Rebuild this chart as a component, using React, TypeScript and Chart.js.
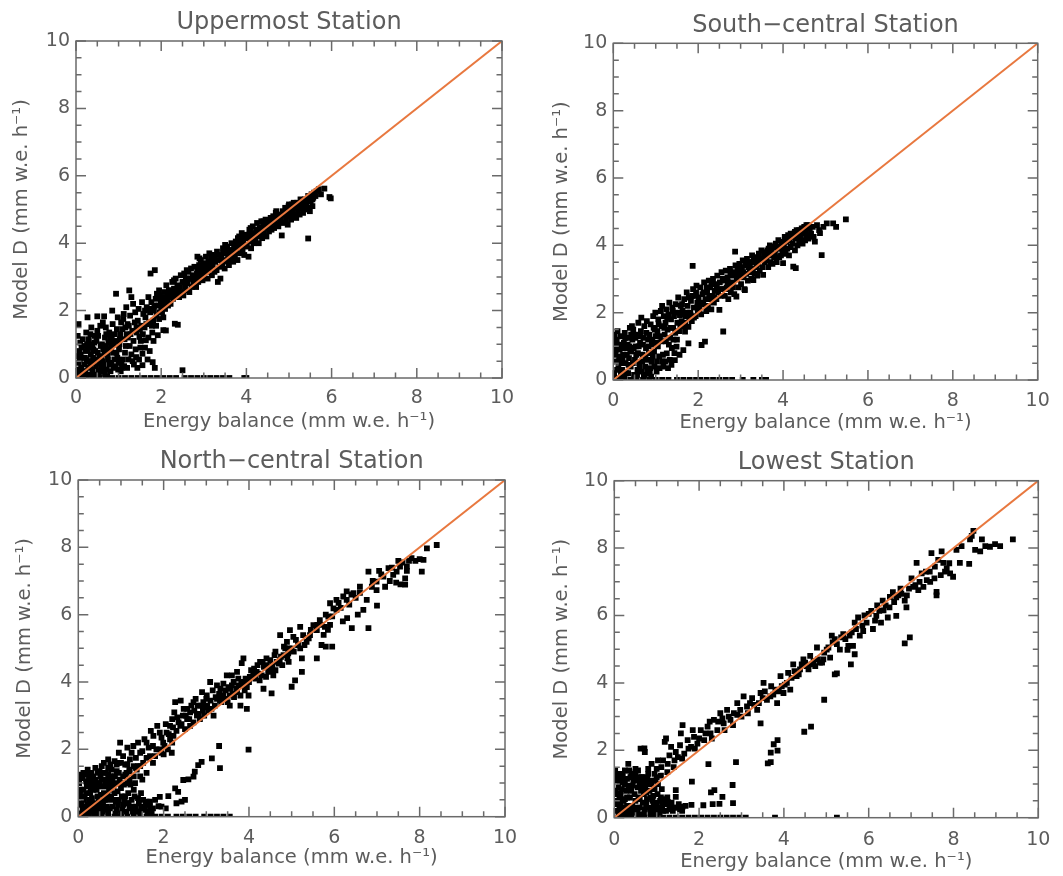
import React, { useEffect, useRef } from 'react';
import { Chart, registerables } from 'chart.js';

Chart.register(...registerables);

type Pt = [number, number];

// ---------------- DATA ----------------
const AXIS_MIN = 0;
const AXIS_MAX = 10;
const MAJOR_STEP = 2;
const MINOR_STEP = 0.5;
const X_LABEL = 'Energy balance (mm w.e. h\u207B\u00B9)';
const Y_LABEL = 'Model D (mm w.e. h\u207B\u00B9)';
const STATION_TITLES = ['Uppermost Station', 'South\u2212central Station', 'North\u2212central Station', 'Lowest Station'];
const ONE_TO_ONE: Pt[] = [[0, 0], [10, 10]];

const uppermostPoints: Pt[] = [
  [0.03,0.15],[0.05,0.45],[0.08,0.8],[0.1,1.05],[0.12,0.3],[0.15,0.6],[0.04,1.25],[0.18,0.95],[0.06,1.6],[0.14,0.1],[0.19,0.4],[0.02,0.65],
  [0.22,0.2],[0.25,0.55],[0.28,0.85],[0.3,1.15],[0.33,0.35],[0.35,0.7],[0.38,1.0],[0.24,1.35],[0.36,1.5],[0.3,0.1],[0.39,0.25],[0.27,1.8],
  [0.42,0.45],[0.45,0.8],[0.48,1.1],[0.5,1.4],[0.53,0.2],[0.55,0.65],[0.58,0.95],[0.44,1.25],[0.5,1.83],[0.57,1.55],[0.46,0.1],[0.59,0.3],
  [0.62,0.5],[0.64,0.85],[0.66,1.83],[0.68,1.2],[0.7,1.5],[0.72,0.25],[0.74,0.7],[0.76,1.05],[0.78,1.35],[0.63,1.65],[0.79,0.4],[0.68,0.12],
  [0.82,0.9],[0.84,1.25],[0.86,1.6],[0.88,0.35],[0.9,0.55],[0.92,1.1],[0.94,2.5],[0.96,1.45],[0.98,1.8],[0.85,2.0],[0.95,0.75],[0.99,0.25],
  [1.02,1.0],[1.04,1.3],[1.06,1.65],[1.08,0.3],[1.1,0.55],[1.12,1.9],[1.14,1.15],[1.16,1.5],[1.18,2.1],[1.05,0.2],[1.19,1.3],[1.11,1.75],
  [1.22,1.2],[1.24,1.55],[1.25,2.6],[1.27,1.85],[1.3,0.7],[1.32,1.4],[1.34,2.2],[1.36,0.4],[1.38,1.65],[1.23,0.55],[1.39,1.95],[1.3,2.4],
  [1.41,0.62],[1.43,1.35],[1.45,1.7],[1.47,2.05],[1.49,1.22],[1.51,0.9],[1.53,1.55],[1.55,2.25],[1.56,0.38],[1.58,1.9],[1.56,0.72],[1.44,0.3],
  [1.61,1.5],[1.63,1.8],[1.64,1.12],[1.66,2.1],[1.68,0.55],[1.7,2.4],[1.72,1.65],[1.74,1.95],[1.75,3.1],[1.77,2.25],[1.8,0.47],[1.79,1.35],
  [1.81,1.7],[1.83,2.0],[1.85,3.2],[1.85,0.3],[1.87,2.35],[1.89,1.85],[1.92,1.27],[1.93,2.15],[1.95,2.6],[1.97,1.95],[1.99,2.3],[1.9,2.5],
  [2.02,1.95],[2.04,2.25],[2.05,1.42],[2.07,2.55],[2.09,2.05],[2.11,1.41],[2.12,2.75],[2.14,2.35],[2.16,2.15],[2.18,2.6],[2.2,2.4],
  [2.22,2.2],[2.24,2.5],[2.26,2.85],[2.28,2.35],[2.3,2.65],[2.32,1.61],[2.34,2.95],[2.36,2.45],[2.38,2.75],[2.39,1.58],[2.4,2.55],
  [2.42,2.4],[2.44,2.7],[2.46,3.05],[2.48,2.55],[2.5,0.23],[2.5,2.85],[2.52,2.45],[2.54,3.1],[2.56,2.7],[2.58,2.95],[2.6,2.6],
  [2.62,2.8],[2.64,3.15],[2.66,2.55],[2.68,2.95],[2.7,3.25],[2.72,2.7],[2.74,3.05],[2.76,2.85],[2.78,3.3],[2.8,2.95],
  [2.82,2.7],[2.84,3.1],[2.85,3.6],[2.87,2.85],[2.89,3.35],[2.91,3.0],[2.93,3.5],[2.95,3.15],[2.97,2.9],[2.99,3.4],
  [3.01,3.05],[3.03,3.3],[3.05,3.6],[3.07,3.15],[3.09,2.95],[3.11,3.45],[3.13,3.7],[3.15,3.25],[3.17,3.55],[3.19,3.05],
  [3.21,3.35],[3.23,3.65],[3.25,3.15],[3.27,3.45],[3.3,3.2],[3.31,3.75],[3.33,2.85],[3.35,3.5],[3.37,3.3],[3.39,2.95],
  [3.41,3.6],[3.43,3.35],[3.45,3.85],[3.47,3.5],[3.49,3.25],[3.51,3.7],[3.53,3.45],[3.55,3.9],[3.57,3.6],[3.59,3.35],
  [3.61,3.75],[3.63,3.5],[3.65,4.0],[3.67,3.65],[3.69,3.45],[3.71,3.85],[3.73,3.6],[3.75,4.05],[3.77,3.75],[3.79,3.5],
  [3.81,3.9],[3.83,4.2],[3.85,3.7],[3.87,4.0],[3.89,4.3],[3.91,3.8],[3.93,4.1],[3.95,3.65],[3.97,3.95],[3.99,4.25],
  [4.01,3.9],[4.03,4.15],[4.05,3.6],[4.07,4.4],[4.09,4.05],[4.11,3.85],[4.13,4.25],[4.15,4.5],[4.17,4.0],[4.19,4.3],
  [4.21,4.1],[4.23,4.4],[4.25,4.6],[4.27,4.2],[4.29,4.0],[4.31,4.45],[4.33,4.3],[4.35,4.65],[4.37,4.15],[4.39,4.5],
  [4.41,4.3],[4.43,4.55],[4.45,4.7],[4.47,4.2],[4.49,4.45],[4.51,4.65],[4.53,4.35],[4.55,4.55],[4.57,4.75],[4.59,4.4],
  [4.61,4.6],[4.63,4.8],[4.65,4.45],[4.67,4.7],[4.69,4.9],[4.71,4.55],[4.73,4.75],[4.75,4.5],[4.77,4.85],[4.79,4.65],
  [4.81,4.75],[4.83,4.23],[4.85,4.95],[4.87,4.6],[4.89,4.85],[4.91,5.05],[4.93,4.7],[4.95,4.9],[4.97,4.55],[4.99,5.1],
  [5.01,4.8],[5.03,5.0],[5.05,4.7],[5.07,5.15],[5.09,4.9],[5.11,5.2],[5.13,4.85],[5.15,5.05],[5.17,4.75],[5.19,5.2],
  [5.21,4.95],[5.23,5.15],[5.25,4.85],[5.27,5.3],[5.29,5.05],[5.31,5.2],[5.33,4.9],[5.35,5.1],[5.37,5.3],[5.39,5.0],
  [5.41,5.2],[5.43,5.05],[5.45,4.14],[5.47,5.35],[5.49,4.95],[5.51,5.25],[5.53,5.45],[5.55,5.1],[5.57,5.35],[5.59,5.5],
  [5.62,5.4],[5.65,5.55],[5.7,5.6],[5.83,5.62],[5.95,5.37],[5.98,5.33],[5.75,5.45],
  [0.02,0.05],[0.07,0.25],[0.09,0.55],[0.11,0.7],[0.13,0.9],[0.16,1.15],[0.17,0.2],[0.2,0.05],[0.21,0.6],[0.23,0.8],[0.26,1.0],[0.29,0.3],
  [0.31,0.5],[0.32,0.9],[0.34,1.3],[0.37,0.1],[0.4,0.6],[0.41,0.85],[0.43,1.05],[0.47,0.35],[0.49,0.55],[0.51,0.75],[0.52,1.25],[0.54,0.05],
  [0.56,0.45],[0.6,0.6],[0.61,1.0],[0.63,0.2],[0.65,0.4],[0.67,0.7],[0.69,0.95],[0.71,1.3],[0.73,0.05],[0.75,0.55],[0.77,0.85],[0.8,1.15],
  [0.81,0.2],[0.83,0.45],[0.87,0.75],[0.89,1.0],[0.91,1.3],[0.93,0.3],[0.97,0.6],[1.0,0.45],[1.01,0.85],[1.03,1.15],[1.07,0.45],[1.09,1.45],
  [1.13,0.35],[1.15,0.75],[1.17,0.95],[1.2,0.3],[1.21,1.6],[1.26,0.95],[1.28,1.3],[1.33,0.5],[1.35,1.1],[1.4,0.85],[1.42,1.5],[1.48,0.55],
  [1.5,1.45],[1.52,1.1],[1.57,1.3],[1.62,0.9],[1.65,1.6],[1.7,1.2],[1.73,0.8],[1.78,1.55],[1.82,1.1],[1.88,1.55],[1.95,1.75],[2.0,2.1],
  [2.05,1.8],[2.1,2.2],
  [1.62,2.0],[1.72,2.05],[1.84,2.15],[1.96,2.45],[2.06,2.4],[2.15,2.5],[2.25,2.6],[2.35,2.6],[2.45,2.5],[2.55,2.85],[2.65,2.95],[2.75,2.95],
  [2.85,3.2],[2.95,3.3],[3.05,3.4],[3.15,3.4],[3.25,3.55],[3.35,3.65],[3.45,3.7],[3.55,3.75],[3.65,3.8],[3.75,3.9],[3.85,4.05],[3.95,4.15],
  [4.05,4.25],[4.15,4.2],[4.25,4.35],[4.35,4.45],[4.45,4.55],[4.55,4.65],[4.65,4.7],[4.75,4.8],[4.85,4.85],[4.95,5.0],[5.05,4.95],[5.15,5.15],
  [5.25,5.05],[5.35,5.25],[5.45,5.4],[5.55,5.3],[2.3,2.9],[2.6,3.2],[2.9,3.55],[3.2,3.65],[3.5,3.95],[3.8,4.15],[4.1,4.45],[4.4,4.65],
  [4.7,4.95],[5.0,5.15],
];
const uppermostZeroX: number[] = [0.1,0.25,0.4,0.55,0.7,0.85,1.0,1.15,1.3,1.45,1.6,1.75,1.9,2.05,2.2,2.35,2.55,2.7,2.85,3.0,3.15,3.3,3.45,3.6,3.95,4.0];

const southCentralPoints: Pt[] = [
  [0.02,0.2],[0.04,0.55],[0.06,0.9],[0.08,1.2],[0.1,1.45],[0.12,0.35],[0.14,0.7],[0.16,1.05],[0.18,0.15],[0.03,1.35],[0.11,0.05],[0.19,0.5],
  [0.21,0.3],[0.23,0.75],[0.25,1.1],[0.27,1.4],[0.29,0.5],[0.31,0.95],[0.33,1.25],[0.35,0.2],[0.37,0.65],[0.39,1.55],[0.26,0.08],[0.38,1.0],
  [0.41,0.4],[0.43,0.85],[0.45,1.2],[0.47,1.5],[0.49,0.15],[0.51,0.6],[0.53,1.0],[0.55,1.35],[0.57,0.3],[0.59,1.7],[0.44,1.6],[0.58,0.8],
  [0.61,0.5],[0.63,1.1],[0.65,1.45],[0.67,0.25],[0.69,0.75],[0.71,1.25],[0.73,1.6],[0.75,0.4],[0.77,0.95],[0.79,1.75],[0.66,1.85],[0.74,0.15],
  [0.81,0.6],[0.83,1.0],[0.85,1.35],[0.86,0.2],[0.88,1.65],[0.9,0.54],[0.92,1.2],[0.94,1.9],[0.96,0.85],[0.98,1.5],[0.87,0.35],[0.99,2.0],
  [1.01,1.1],[1.02,0.25],[1.04,1.45],[1.06,1.8],[1.08,0.7],[1.1,1.3],[1.12,2.05],[1.14,1.6],[1.16,0.55],[1.18,0.4],[1.19,1.9],[1.15,2.2],
  [1.21,1.35],[1.23,1.7],[1.25,2.1],[1.26,0.79],[1.28,1.5],[1.3,1.95],[1.32,2.3],[1.34,1.25],[1.36,1.8],[1.37,0.45],[1.39,2.15],[1.33,0.6],
  [1.41,1.55],[1.43,1.9],[1.45,0.59],[1.47,2.25],[1.49,0.99],[1.51,1.7],[1.53,2.45],[1.55,1.45],[1.57,1.93],[1.59,2.2],[1.42,1.2],[1.56,0.75],
  [1.61,1.75],[1.63,2.05],[1.65,0.89],[1.67,2.4],[1.69,1.44],[1.71,1.9],[1.73,2.6],[1.75,2.2],[1.77,1.09],[1.77,1.58],[1.79,1.85],[1.68,1.6],
  [1.81,2.0],[1.83,2.35],[1.85,1.75],[1.87,3.39],[1.88,2.7],[1.9,2.15],[1.92,2.5],[1.94,1.9],[1.96,2.8],[1.98,2.3],[1.99,2.05],
  [2.01,2.45],[2.03,2.1],[2.05,2.75],[2.07,1.95],[2.08,1.04],[2.1,2.55],[2.12,2.25],[2.14,2.9],[2.16,1.14],[2.17,2.4],[2.19,2.05],
  [2.21,2.6],[2.23,2.2],[2.25,2.95],[2.27,2.4],[2.29,2.75],[2.31,2.1],[2.33,2.5],[2.35,3.0],[2.37,2.3],[2.39,2.65],
  [2.41,2.85],[2.43,2.4],[2.45,3.1],[2.47,2.6],[2.5,2.08],[2.51,2.9],[2.53,2.5],[2.55,3.2],[2.57,2.7],[2.59,1.44],
  [2.61,2.95],[2.63,2.5],[2.65,3.25],[2.67,2.75],[2.69,3.05],[2.71,2.4],[2.73,2.85],[2.75,3.3],[2.77,2.6],[2.79,3.1],
  [2.81,2.9],[2.83,3.2],[2.85,2.55],[2.87,3.81],[2.88,3.4],[2.9,2.48],[2.91,3.0],[2.93,3.3],[2.95,2.75],[2.97,3.45],[2.99,3.1],
  [3.01,2.85],[3.03,3.3],[3.05,3.55],[3.07,3.05],[3.09,2.7],[3.1,2.67],[3.11,3.4],[3.13,3.15],[3.15,3.6],[3.17,2.95],[3.19,3.35],
  [3.21,3.2],[3.23,3.5],[3.25,3.0],[3.27,3.7],[3.29,3.3],[3.3,2.97],[3.31,3.55],[3.33,3.15],[3.35,3.65],[3.37,3.35],[3.39,3.1],
  [3.41,3.45],[3.43,3.75],[3.45,3.25],[3.47,3.6],[3.49,3.85],[3.51,3.35],[3.53,3.12],[3.55,3.7],[3.57,3.5],[3.59,3.8],
  [3.61,3.55],[3.63,3.85],[3.65,3.35],[3.67,3.7],[3.69,4.0],[3.71,3.5],[3.73,3.8],[3.75,3.45],[3.77,3.95],[3.79,3.65],
  [3.81,3.75],[3.83,4.05],[3.85,3.5],[3.87,3.9],[3.89,4.15],[3.91,3.65],[3.93,3.95],[3.95,3.7],[3.97,4.1],[3.99,3.85],
  [4.0,3.47],[4.02,4.0],[4.04,4.25],[4.06,3.75],[4.08,4.1],[4.1,3.9],[4.12,4.3],[4.14,3.7],[4.16,4.15],[4.18,3.95],[4.2,4.25],
  [4.22,4.05],[4.24,3.37],[4.26,4.35],[4.28,3.85],[4.3,3.32],[4.3,4.2],[4.32,4.45],[4.34,4.0],[4.36,4.3],[4.38,4.15],[4.4,4.4],
  [4.42,4.2],[4.44,4.5],[4.46,4.05],[4.48,4.35],[4.5,4.55],[4.52,4.15],[4.54,4.45],[4.56,4.3],[4.58,4.6],[4.6,4.2],
  [4.63,4.5],[4.66,4.35],[4.7,4.55],[4.75,4.11],[4.8,4.6],[4.87,4.36],[4.91,3.71],[4.95,4.55],[5.03,4.65],[5.18,4.65],[5.25,4.55],[5.48,4.77],[4.72,4.25],[4.85,4.45],
  [0.02,0.05],[0.05,0.75],[0.07,1.05],[0.09,0.3],[0.13,0.55],[0.15,0.9],[0.17,1.3],[0.2,0.05],[0.22,0.6],[0.24,0.95],[0.28,1.25],[0.3,0.2],
  [0.32,0.75],[0.34,1.05],[0.36,0.45],[0.4,0.85],[0.42,1.35],[0.46,0.5],[0.48,0.95],[0.5,0.05],[0.52,1.25],[0.54,0.75],[0.56,0.15],[0.6,1.0],
  [0.62,0.35],[0.64,1.3],[0.68,0.55],[0.7,1.05],[0.72,0.1],[0.76,0.7],[0.78,1.4],[0.8,0.3],[0.82,1.2],[0.84,0.8],[0.89,0.1],[0.91,1.05],
  [0.93,0.7],[0.95,1.55],[0.97,0.4],[1.0,1.3],[1.03,0.55],[1.05,1.0],[1.07,1.65],[1.09,0.35],[1.13,1.15],[1.17,0.75],[1.2,1.55],[1.22,0.55],
  [1.24,1.15],[1.27,1.85],[1.29,0.35],[1.31,1.05],[1.35,1.55],[1.38,0.95],[1.4,2.05],[1.44,0.8],[1.46,1.4],[1.5,1.2],[1.52,2.0],[1.58,1.6],
  [1.62,2.25],[1.66,1.95],[1.7,1.7],[1.74,2.0],[1.78,2.45],[1.82,1.95],[1.86,2.5],[1.9,1.85],[1.95,2.6],[2.0,2.2],[2.06,2.3],[2.13,2.6],
  [2.2,2.75],[2.26,2.5],[2.32,2.85],[2.38,2.45],[2.44,2.75],[2.52,2.7],[2.58,3.0],[2.64,2.7],[2.7,2.9],[2.76,3.15],[2.82,2.75],[2.88,3.15],
  [2.94,3.2],[3.0,3.35],[3.06,3.2],[3.14,3.45],[3.22,3.4],[3.28,3.5],[3.36,3.5],[3.44,3.6],[3.52,3.6],[3.58,3.65],[3.66,3.9],[3.74,3.7],
  [3.82,3.95],[3.9,3.9],[3.98,4.0],[4.08,4.2],[4.18,4.35],[4.28,4.4],[4.38,4.45],[4.48,4.5],[4.55,4.6],
];
const southCentralZeroX: number[] = [0.1,0.25,0.4,0.55,0.7,0.85,1.0,1.15,1.3,1.5,1.65,1.8,1.95,2.05,2.2,2.35,2.5,2.65,2.8,3.05,3.3,3.5,3.6];

const northCentralPoints: Pt[] = [
  [8.4,8.07],[8.17,7.97],[8.09,7.63],[8.05,7.28],[7.81,7.68],[7.7,7.43],[7.66,7.08],[7.66,6.89],[7.54,7.43],[7.46,7.28],[7.38,7.18],[7.27,7.38],
  [7.15,7.13],[6.99,6.98],[6.99,6.73],[7.19,6.83],[6.88,6.83],[6.8,7.28],[7.0,6.27],[6.76,6.44],[6.68,6.14],[6.8,5.6],[6.41,5.6],[6.6,6.83],
  [6.45,6.64],[6.29,6.69],[6.29,6.44],[6.21,6.54],[6.05,6.44],[6.05,6.14],[5.98,6.19],[5.9,6.34],[5.86,5.94],[5.78,5.64],[5.66,5.84],[5.59,5.54],
  [5.51,5.69],[5.43,5.39],[5.8,5.05],[5.95,5.05],[5.35,5.19],[5.59,4.7],
  [7.6,7.55],[7.5,7.6],[7.35,7.4],[7.1,7.2],[7.05,7.3],[6.9,7.0],[7.9,7.6],[8.0,7.65],[7.75,7.6],[6.5,6.5],[6.4,6.6],[6.35,6.3],[6.15,6.2],
  [6.1,6.35],[5.95,5.95],[5.8,6.0],[5.7,5.7],[5.6,5.7],[5.45,5.55],[5.4,5.3],[6.55,6.0],[6.3,5.9],[6.2,5.8],[5.85,5.55],[5.75,5.4],[5.7,5.1],
  [5.9,5.7],[6.6,6.65],[7.3,7.0],[7.45,6.95],[7.55,6.9],[7.7,7.3],
  [5.27,5.39],[5.2,5.64],[5.04,5.34],[4.96,5.54],[5.0,4.99],[4.89,5.19],[4.81,4.8],[4.73,5.39],[4.65,4.6],[5.24,4.7],[5.24,4.3],[5.08,4.05],
  [5.0,3.86],[4.53,3.66],[4.34,3.8],[4.57,4.2],[4.49,4.4],[4.41,4.7],[4.26,4.6],[4.18,4.3],[4.1,4.2],[4.0,4.0],
  [5.15,5.1],[5.1,5.25],[5.05,4.9],[4.95,5.0],[4.9,4.7],[4.85,5.0],[4.75,4.75],[4.7,4.55],[4.6,4.8],[4.55,4.5],[4.5,4.65],[4.45,4.3],
  [4.35,4.45],[4.3,4.2],[4.2,4.5],[4.15,4.1],[4.05,4.35],[5.2,5.0],[5.3,5.1],[4.62,4.35],[4.78,4.5],[4.93,4.6],[4.4,4.15],[4.25,4.05],
  [3.95,4.0],[3.87,4.7],[3.83,4.56],[3.99,3.6],[3.95,3.2],[3.99,1.99],[3.64,4.0],[3.56,3.8],[3.48,4.2],[3.4,3.6],[3.33,3.8],[3.25,3.5],
  [3.17,3.0],[3.09,4.0],[3.01,3.6],[2.93,3.4],[2.86,3.3],[2.78,3.0],[2.7,3.4],[2.62,3.1],[2.55,2.9],[2.47,3.2],[2.39,2.7],[2.27,3.4],
  [2.23,2.4],[2.15,2.7],
  [3.9,3.75],[3.85,3.9],[3.8,3.6],[3.75,4.1],[3.7,3.8],[3.65,3.55],[3.6,3.9],[3.55,3.6],[3.5,3.4],[3.45,3.75],[3.4,3.95],[3.35,3.4],
  [3.3,3.65],[3.2,3.3],[3.15,3.75],[3.1,3.45],[3.05,3.15],[3.0,3.5],[2.95,3.0],[2.9,3.7],[2.85,2.9],[2.8,3.3],[2.75,3.5],[2.7,2.8],
  [2.65,3.3],[2.6,2.9],[2.55,3.2],[2.5,2.6],[2.45,3.0],[2.4,3.45],[2.35,2.8],[2.3,2.55],[2.25,3.1],[2.2,2.9],[3.95,3.85],[3.75,3.9],
  [3.55,3.3],[3.35,3.6],[3.6,4.2],[3.72,4.3],[3.25,3.9],[2.98,3.25],[3.8,3.3],
  [2.07,2.5],[2.19,1.9],[1.99,2.2],[1.91,2.5],[1.83,2.0],[1.76,2.4],[1.68,1.8],[1.6,2.2],[1.52,1.6],[1.45,1.9],[1.37,1.4],[1.29,2.1],
  [1.21,1.7],[1.13,1.3],[1.05,1.8],[0.98,2.2],[0.93,1.6],[0.86,1.2],[0.78,1.4],[0.7,1.7],[0.63,1.0],[0.55,1.5],[0.52,1.2],
  [2.15,2.3],[2.1,2.0],[2.05,2.75],[2.0,1.85],[1.95,2.35],[1.9,2.0],[1.85,2.7],[1.8,1.8],[1.75,2.1],[1.7,2.55],[1.65,2.05],[1.6,1.75],
  [1.55,2.3],[1.5,1.95],[1.45,1.5],[1.4,2.2],[1.35,1.75],[1.3,1.5],[1.25,1.9],[1.2,1.35],[1.15,2.05],[1.1,1.55],[1.05,1.2],[1.0,1.6],
  [0.95,1.9],[0.9,1.35],[0.85,1.65],[0.8,1.05],[0.75,1.2],[0.7,1.45],[0.65,1.3],[0.6,1.6],[0.58,0.9],[0.5,1.0],[0.45,1.3],[0.4,1.45],
  [0.35,1.2],[0.3,1.0],[0.2,1.25],[0.12,1.3],[1.75,1.6],[1.45,1.2],[1.2,1.1],[1.0,1.0],[1.95,1.9],[2.2,2.2],
  [3.3,2.1],[3.13,1.73],[2.89,1.63],[2.81,1.53],[3.32,1.44],[2.73,1.34],[2.7,1.19],[2.46,1.09],[2.27,0.84],[2.34,0.74],[2.11,0.61],
  [1.91,0.59],[1.8,0.5],[2.42,0.45],[2.3,0.4],[2.5,0.5],[1.68,0.45],[1.95,0.3],[2.05,0.25],[1.88,0.31],[1.6,0.45],[2.58,1.11],
  [0.02,1.0],[0.05,0.8],[0.1,1.2],[0.15,0.6],[0.2,0.9],[0.25,1.2],[0.3,0.4],[0.35,0.8],[0.4,1.1],[0.45,0.6],[0.5,0.9],[0.55,0.3],
  [0.6,0.7],[0.65,1.1],[0.7,0.5],[0.75,0.9],[0.8,0.3],[0.85,0.7],[0.9,1.0],[0.95,0.5],[1.0,0.85],[1.05,0.35],[1.1,0.6],[1.15,1.0],
  [1.2,0.25],[1.25,0.5],[1.3,0.8],[1.35,0.3],[1.4,0.55],[1.5,0.3],[1.55,0.2],[1.65,0.15],[1.75,0.25],[0.1,0.2],[0.2,0.1],[0.3,0.15],
  [0.4,0.2],[0.5,0.1],[0.6,0.2],[0.7,0.15],[0.9,0.2],[1.0,0.1],[0.05,0.4],[0.15,0.3],[0.25,0.5],[0.35,0.25],[1.3,1.2],[1.2,1.4],
  [1.1,1.25],[0.95,1.3],[0.8,1.2],[0.7,1.25],[0.6,1.3],[1.4,1.5],[0.08,0.6],[0.18,1.05],[0.28,0.7],[0.42,0.4],[0.58,0.45],[0.72,0.8],
  [0.88,0.45],[1.12,0.4],[1.28,0.15],[1.45,0.15],
  [0.03,0.1],[0.04,0.65],[0.06,1.15],[0.08,0.35],[0.12,0.8],[0.13,0.5],[0.17,0.15],[0.19,0.7],[0.22,0.35],[0.23,1.05],[0.27,0.25],[0.29,0.85],
  [0.32,0.55],[0.33,1.15],[0.37,0.1],[0.38,0.95],[0.43,0.8],[0.44,0.25],[0.47,1.0],[0.48,0.45],[0.53,0.65],[0.54,1.1],[0.57,0.15],[0.62,0.5],
  [0.63,0.9],[0.67,0.3],[0.68,0.65],[0.73,1.05],[0.74,0.25],[0.77,0.6],[0.82,0.9],[0.83,0.5],[0.87,0.1],[0.92,0.75],[0.93,0.35],[0.97,1.1],
  [1.02,0.6],[1.03,0.2],[1.07,0.95],[1.08,0.45],[1.13,0.15],[1.17,0.7],[1.18,0.4],[1.22,0.95],[1.27,0.3],[1.32,0.6],[1.33,1.0],[1.38,0.15],
  [1.42,0.4],[1.47,0.7],[1.48,0.25],[1.52,0.5],[1.58,0.35],[1.62,0.1],[1.68,0.3],[1.72,0.1],[1.5,1.1],[1.6,1.3],[1.35,1.45],[1.15,1.55],
  [0.9,1.55],[0.75,1.55],[0.5,1.35],[0.3,1.3],[0.22,1.4],[0.05,1.25],
  [2.02,2.1],[2.12,2.45],[2.22,2.65],[2.32,2.95],[2.42,2.75],[2.52,3.0],[2.62,2.7],[2.72,3.15],[2.82,3.05],[2.92,3.15],[3.02,3.3],[3.12,3.2],
  [3.22,3.55],[3.32,3.45],[3.42,3.5],[3.52,3.85],[3.62,3.65],[3.72,3.7],[3.82,4.0],[3.92,4.1],[4.02,4.15],[4.12,4.4],[4.22,4.25],[4.32,4.6],
  [4.42,4.5],[4.52,4.35],[4.62,4.9],[4.72,4.65],[4.82,5.05],[4.92,4.85],
];
const northCentralZeroX: number[] = [0.1,0.25,0.4,0.55,0.7,0.85,1.0,1.15,1.3,1.45,1.6,1.8,1.95,2.1,2.3,2.45,2.6,2.75,2.95,3.1,3.25,3.4,3.55];

const lowestPoints: Pt[] = [
  [9.4,8.26],[9.1,8.06],[8.98,8.12],[8.86,8.04],[8.75,8.06],[8.63,7.9],[8.51,7.95],[8.67,8.26],[8.39,8.26],[8.37,7.53],[8.43,8.36],[8.47,8.51],
  [8.19,8.06],[8.15,7.56],[8.07,7.95],[7.99,7.15],[7.92,7.25],[7.84,7.4],[7.76,7.56],[7.72,7.9],[7.64,7.65],[7.6,6.7],[7.6,6.6],[7.56,7.45],
  [7.48,7.85],[7.44,7.3],[7.37,7.05],[7.29,6.85],[7.25,7.25],[7.13,7.56],[7.17,6.75],[7.05,6.85],[7.01,7.1],[6.89,6.24],[6.85,6.44],[6.77,6.64],
  [6.65,6.54],[6.65,5.99],[6.85,5.17],[6.97,5.35],[6.57,6.69],[6.49,6.24],[6.45,5.94],[6.33,6.44],[6.29,5.79],[6.25,6.14],[6.18,5.99],[6.1,5.6],
  [6.06,6.14],[5.95,5.79],[5.87,5.54],[5.79,5.4],[5.75,5.94],[5.67,5.79],[5.63,5.1],[5.67,4.85],[5.52,5.1],[5.4,5.45],[5.32,4.99],[5.2,5.3],
  [5.13,5.4],[5.09,4.75],[5.2,4.25],[5.01,4.99],[4.93,4.7],[4.85,4.6],[4.78,5.05],[4.74,4.5],[4.62,4.8],[4.54,4.5],[4.46,4.7],[4.38,4.4],
  [4.3,4.2],[4.22,4.55],[4.15,3.8],[4.07,4.0],[3.99,3.7],[3.92,4.2],[3.84,3.4],[3.8,3.8],[3.68,3.6],[3.52,4.0],[3.45,3.7],[3.41,3.4],
  [3.37,3.2],[3.45,2.8],[3.25,3.55],[3.13,3.3],[3.05,3.6],[2.97,3.2],[2.9,3.4],[2.82,3.1],[2.74,2.9],[2.66,3.2],[2.58,2.8],[2.5,3.1],
  [2.43,2.6],[2.35,2.9],[2.27,2.5],[2.2,2.7],[2.12,2.3],[2.04,2.6],[1.96,2.2],[1.88,2.4],[1.81,2.1],[1.73,2.3],[1.65,1.9],[1.57,2.5],
  [1.5,1.8],[1.42,1.7],[1.34,2.1],[1.26,1.6],[1.19,2.25],[1.11,1.5],[1.03,1.7],[0.95,1.3],[0.88,1.6],[0.72,1.95],[0.56,1.4],[0.48,1.2],
  [0.33,1.6],[0.17,1.2],[0.09,1.3],[1.61,2.75],[1.22,2.35],[0.71,2.06],[5.58,4.55],[5.25,4.28],[5.5,4.98],
  [7.9,7.55],[7.8,7.3],[7.7,7.2],[7.55,7.1],[7.45,7.0],[7.35,7.3],[7.2,7.0],[7.1,6.9],[6.95,6.8],[6.9,6.6],[6.75,6.8],[6.7,6.6],
  [6.6,6.4],[6.5,6.55],[6.4,6.3],[6.35,6.15],[6.2,6.3],[6.15,5.85],[6.0,6.05],[5.9,6.0],[5.85,5.7],[5.7,5.6],[5.6,5.5],[5.55,5.4],
  [5.45,5.3],[5.35,5.35],[5.25,5.15],[5.15,5.2],[5.05,5.05],[4.95,4.9],[4.9,4.6],[4.8,4.7],[4.7,4.65],[4.65,4.55],[4.58,4.4],[4.5,4.6],
  [4.42,4.55],[4.35,4.25],[4.25,4.35],[4.18,4.15],[4.1,4.3],[4.02,3.95],[3.95,3.9],[3.88,3.75],[3.75,3.65],[3.7,3.9],[3.6,3.5],[3.55,3.75],
  [3.5,3.55],[3.3,3.35],[3.2,3.4],[3.15,3.1],[3.0,3.0],[2.9,3.05],[2.8,2.75],[2.7,3.0],[2.6,2.6],[2.55,2.95],[2.45,2.85],[2.3,2.35],
  [2.25,2.85],[2.15,2.5],[2.0,2.35],[1.9,2.05],[1.85,2.6],[1.75,2.05],[1.6,1.75],[1.55,2.15],[1.45,1.95],[1.4,1.5],[1.3,1.85],[1.25,1.35],
  [1.15,1.7],[1.1,1.25],[1.0,1.45],[0.9,1.1],[0.8,1.45],[0.7,1.2],[0.6,1.05],[0.5,1.45],[0.4,1.3],[0.3,1.15],[0.25,1.4],[0.62,2.05],
  [4.95,3.5],[4.48,2.55],[4.64,2.7],[3.62,1.61],[3.69,1.65],[3.69,1.93],[3.85,1.99],[3.76,2.18],[3.85,2.3],[2.87,1.65],[2.22,1.59],
  [2.79,0.97],[2.8,0.43],[2.36,0.82],[2.28,0.75],[2.55,0.62],[2.48,0.41],[2.32,0.4],[1.82,0.38],[1.83,1.07],[1.45,0.82],[1.45,0.62],
  [1.26,0.47],[1.61,0.33],[2.1,0.37],
  [0.02,1.4],[0.05,1.1],[0.1,0.9],[0.15,0.7],[0.05,0.5],[0.2,0.3],[0.25,1.0],[0.3,0.6],[0.35,0.2],[0.4,0.8],[0.45,1.1],[0.5,0.5],
  [0.55,0.9],[0.6,0.3],[0.65,1.2],[0.7,0.7],[0.75,0.4],[0.8,1.0],[0.85,0.6],[0.9,0.2],[0.95,0.85],[1.0,0.45],[1.05,0.3],[1.1,0.6],
  [1.15,0.2],[1.2,0.4],[1.3,0.25],[1.35,0.45],[1.45,0.3],[1.55,0.25],[0.1,0.1],[0.25,0.15],[0.4,0.1],[0.55,0.15],[0.7,0.1],[0.85,0.15],
  [1.0,0.1],[0.15,0.4],[0.3,0.35],[0.45,0.3],[0.6,0.55],[0.75,0.75],[0.9,0.5],[0.2,1.3],[0.35,1.4],[0.5,1.35],[0.65,0.9],[0.8,1.3],
  [1.0,1.2],[0.12,0.25],[0.08,0.7],[0.25,0.55],
  [0.03,0.2],[0.04,0.8],[0.06,1.25],[0.08,0.4],[0.12,0.55],[0.13,1.05],[0.17,0.1],[0.18,0.85],[0.22,0.5],[0.23,1.15],[0.27,0.3],[0.28,0.8],
  [0.32,0.1],[0.33,0.95],[0.37,0.6],[0.38,1.2],[0.42,0.35],[0.43,0.95],[0.47,0.15],[0.48,0.7],[0.52,1.1],[0.53,0.3],[0.57,0.6],[0.58,1.2],
  [0.62,0.1],[0.63,0.8],[0.67,0.45],[0.68,1.05],[0.72,0.25],[0.73,0.9],[0.77,0.55],[0.78,1.15],[0.82,0.3],[0.83,0.8],[0.87,0.1],[0.88,1.0],
  [0.92,0.65],[0.93,0.35],[0.97,1.1],[0.98,0.2],[1.02,0.7],[1.03,1.0],[1.07,0.15],[1.08,0.5],[1.12,0.85],[1.13,0.35],[1.17,0.55],[1.22,0.2],
  [1.25,0.6],[1.32,0.35],[1.38,0.2],[1.42,0.3],[1.52,0.4],[1.6,0.2],[1.68,0.35],
];
const lowestZeroX: number[] = [0.1,0.25,0.4,0.55,0.7,0.85,1.0,1.15,1.3,1.45,1.6,1.75,1.9,2.05,2.2,2.35,2.5,2.65,2.8,2.95,3.1,3.79,5.25];

// ---------------- LAYOUT / STYLE ----------------
const FONT = '"DejaVu Sans", "Liberation Sans", sans-serif';
const TEXT_COLOR = '#5c5c5c';
const FRAME_COLOR = '#6a6a6a';
const LINE_COLOR = '#e8783f';
const TICK_SIZE = 19;
const AXIS_TITLE_SIZE = 19.5;
const TITLE_SIZE = 24;
const LH = 1.2;

interface PanelCfg {
  title: string;
  points: Pt[];
  zeroX: number[];
  box: { left: number; top: number; width: number; height: number };
  plot: { l: number; r: number; t: number; b: number };
  yTitleX: number;
  xTickY: number;
  xTitleY: number;
}

const PANELS: PanelCfg[] = [
  { title: STATION_TITLES[0], points: uppermostPoints, zeroX: uppermostZeroX,
    box: { left: 0, top: 0, width: 531, height: 438 }, plot: { l: 76, r: 502, t: 41, b: 378 },
    yTitleX: 22, xTickY: 398, xTitleY: 422 },
  { title: STATION_TITLES[1], points: southCentralPoints, zeroX: southCentralZeroX,
    box: { left: 531, top: 0, width: 532, height: 438 }, plot: { l: 82.3, r: 506.7, t: 43.3, b: 380 },
    yTitleX: 30.7, xTickY: 401.5, xTitleY: 423 },
  { title: STATION_TITLES[2], points: northCentralPoints, zeroX: northCentralZeroX,
    box: { left: 0, top: 438, width: 531, height: 438 }, plot: { l: 78.3, r: 505, t: 42, b: 378.7 },
    yTitleX: 25, xTickY: 400, xTitleY: 420 },
  { title: STATION_TITLES[3], points: lowestPoints, zeroX: lowestZeroX,
    box: { left: 531, top: 438, width: 532, height: 438 }, plot: { l: 83.3, r: 507.3, t: 42.7, b: 379.7 },
    yTitleX: 30.7, xTickY: 402, xTitleY: 423.7 },
];

function Panel({ cfg }: { cfg: PanelCfg }) {
  const ref = useRef<HTMLCanvasElement>(null);

  useEffect(() => {
    const canvas = ref.current;
    if (!canvas) return;
    const W = cfg.box.width;
    const H = cfg.box.height;
    const tickLH = TICK_SIZE * LH;
    const titleLH = AXIS_TITLE_SIZE * LH;

    const framePlugin = {
      id: 'idlFrame',
      afterDraw(chart: any) {
        const { ctx, chartArea: a, scales } = chart;
        const xs = scales.x;
        const ys = scales.y;
        ctx.save();
        ctx.strokeStyle = FRAME_COLOR;
        ctx.lineWidth = 1.5;
        ctx.beginPath();
        const n = Math.round((AXIS_MAX - AXIS_MIN) / MINOR_STEP);
        for (let i = 0; i <= n; i++) {
          const v = AXIS_MIN + i * MINOR_STEP;
          const major = Math.abs(v / MAJOR_STEP - Math.round(v / MAJOR_STEP)) < 1e-9;
          const len = major ? 10 : 5.5;
          const px = xs.getPixelForValue(v);
          const py = ys.getPixelForValue(v);
          ctx.moveTo(px, a.bottom); ctx.lineTo(px, a.bottom - len);
          ctx.moveTo(px, a.top); ctx.lineTo(px, a.top + len);
          ctx.moveTo(a.left, py); ctx.lineTo(a.left + len, py);
          ctx.moveTo(a.right, py); ctx.lineTo(a.right - len, py);
        }
        ctx.stroke();
        ctx.strokeRect(a.left, a.top, a.right - a.left, a.bottom - a.top);
        ctx.fillStyle = TEXT_COLOR;
        ctx.font = `${TITLE_SIZE}px ${FONT}`;
        ctx.textAlign = 'center';
        ctx.textBaseline = 'middle';
        ctx.fillText(cfg.title, (a.left + a.right) / 2, a.top - 18);
        ctx.restore();
      },
    };

    const chart = new Chart(canvas, {
      type: 'scatter',
      data: {
        datasets: [
          {
            type: 'line',
            data: ONE_TO_ONE.map(([x, y]) => ({ x, y })),
            borderColor: LINE_COLOR,
            borderWidth: 2,
            pointRadius: 0,
            fill: false,
            clip: 0,
          } as any,
          {
            data: [
              ...cfg.points.map(([x, y]) => ({ x, y })),
              ...cfg.zeroX.map((x) => ({ x, y: 0 })),
            ],
            pointStyle: 'rect',
            pointRadius: 4.1,
            backgroundColor: '#000',
            borderColor: '#000',
            borderWidth: 0,
            clip: 0,
          } as any,
        ],
      },
      options: {
        responsive: false,
        animation: false,
        events: [],
        layout: {
          autoPadding: false,
          padding: { left: 0, top: cfg.plot.t, right: W - cfg.plot.r, bottom: 0 },
        },
        plugins: { legend: { display: false }, tooltip: { enabled: false }, title: { display: false } },
        scales: {
          x: {
            type: 'linear',
            min: AXIS_MIN,
            max: AXIS_MAX,
            afterFit: (s: any) => { s.height = H - cfg.plot.b; },
            grid: { display: false, drawTicks: false },
            border: { display: false },
            ticks: {
              stepSize: MAJOR_STEP,
              autoSkip: false,
              maxRotation: 0,
              padding: cfg.xTickY - cfg.plot.b - tickLH / 2,
              color: TEXT_COLOR,
              font: { family: FONT, size: TICK_SIZE },
            },
            title: {
              display: true,
              text: X_LABEL,
              color: TEXT_COLOR,
              font: { family: FONT, size: AXIS_TITLE_SIZE },
              padding: { top: 0, bottom: H - cfg.xTitleY - titleLH / 2 },
            },
          },
          y: {
            type: 'linear',
            min: AXIS_MIN,
            max: AXIS_MAX,
            afterFit: (s: any) => { s.width = cfg.plot.l; },
            grid: { display: false, drawTicks: false },
            border: { display: false },
            ticks: {
              stepSize: MAJOR_STEP,
              autoSkip: false,
              padding: 6,
              color: TEXT_COLOR,
              font: { family: FONT, size: TICK_SIZE },
            },
            title: {
              display: true,
              text: Y_LABEL,
              color: TEXT_COLOR,
              font: { family: FONT, size: AXIS_TITLE_SIZE },
              padding: { top: cfg.yTitleX - titleLH / 2, bottom: 0 },
            },
          },
        },
      } as any,
      plugins: [framePlugin],
    });

    return () => chart.destroy();
  }, [cfg]);

  return (
    <canvas
      ref={ref}
      width={cfg.box.width}
      height={cfg.box.height}
      style={{ position: 'absolute', left: cfg.box.left, top: cfg.box.top, width: cfg.box.width, height: cfg.box.height }}
    />
  );
}

export default function App() {
  return (
    <div style={{ position: 'absolute', left: 0, top: 0, width: 1063, height: 876, background: '#ffffff' }}>
      {PANELS.map((p, i) => (
        <Panel key={i} cfg={p} />
      ))}
    </div>
  );
}
